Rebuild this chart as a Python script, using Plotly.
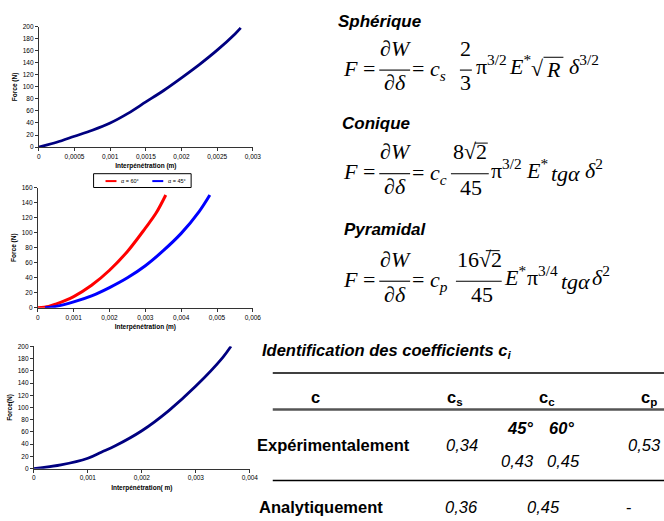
import plotly.graph_objects as go

W, H = 664, 521
XS = 656.0  # horizontal reference width used to place items

def px(x):
    return x / XS

def py(y):
    return 1 - y / H

# ---------------- data ----------------
sph_x = [0, 0.00025, 0.0005, 0.00075, 0.001, 0.00125, 0.0015, 0.00175, 0.002, 0.00225, 0.0025, 0.00275, 0.00283]
sph_f = [0, 8, 18, 28, 40, 56, 75, 94, 115, 137, 161, 188, 198]

con60_x = [0, 0.0003, 0.0005, 0.001, 0.0015, 0.002, 0.0025, 0.003, 0.0033, 0.00357]
con60_f = [0, 2, 5, 15, 30, 50, 75, 106, 126, 150]
con45_x = [0.0002, 0.0005, 0.001, 0.0015, 0.002, 0.0025, 0.003, 0.0035, 0.004, 0.0045, 0.0048]
con45_f = [0, 2, 8, 16, 27, 40, 56, 76, 99, 128, 150]

pyr_x = [0, 0.0005, 0.001, 0.00125, 0.0015, 0.002, 0.0025, 0.003, 0.0035, 0.00365]
pyr_f = [0, 6, 17, 27, 37, 62, 95, 135, 182, 200]

sph_xticks = [0, 0.0005, 0.001, 0.0015, 0.002, 0.0025, 0.003]
sph_xlabels = ["0", "0,0005", "0,001", "0,0015", "0,002", "0,0025", "0,003"]
con_xticks = [0, 0.001, 0.002, 0.003, 0.004, 0.005, 0.006]
con_xlabels = ["0", "0,001", "0,002", "0,003", "0,004", "0,005", "0,006"]
pyr_xticks = [0, 0.001, 0.002, 0.003, 0.004]
pyr_xlabels = ["0", "0,001", "0,002", "0,003", "0,004"]

legend_names = ["α = 60°", "α = 45°"]
legend_colors = ["#FF0000", "#0000FF"]

table_header = ["c", "c<sub>s</sub>", "c<sub>c</sub>", "c<sub>p</sub>"]
row_labels = ["Expérimentalement", "Analytiquement"]
exp_cs, exp_cc45, exp_cc60, exp_cp = "0,34", "0,43", "0,45", "0,53"
ana_cs, ana_cc, ana_cp = "0,36", "0,45", "-"

NAVY = "#000080"

fig = go.Figure()
fig.add_trace(go.Scatter(x=sph_x, y=sph_f, mode="lines", line=dict(color=NAVY, width=2.8, shape="spline"),
                         showlegend=False, xaxis="x", yaxis="y"))
fig.add_trace(go.Scatter(x=con60_x, y=con60_f, mode="lines", name=legend_names[0], showlegend=False,
                         line=dict(color=legend_colors[0], width=3, shape="spline"), xaxis="x2", yaxis="y2"))
fig.add_trace(go.Scatter(x=con45_x, y=con45_f, mode="lines", name=legend_names[1], showlegend=False,
                         line=dict(color=legend_colors[1], width=3, shape="spline"), xaxis="x2", yaxis="y2"))
fig.add_trace(go.Scatter(x=pyr_x, y=pyr_f, mode="lines", line=dict(color=NAVY, width=2.8, shape="spline"),
                         showlegend=False, xaxis="x3", yaxis="y3"))

TICKF = dict(family="Liberation Sans", size=6.5, color="black")
TITLEF = dict(family="Liberation Sans", size=6.5, color="black")

def xax(dom, rng, vals, labels, title, anchor):
    return dict(domain=dom, range=rng, tickvals=vals, ticktext=labels, showline=True, linecolor="#333",
                linewidth=1, ticks="outside", ticklen=3, tickcolor="#333", showgrid=False, zeroline=False,
                tickfont=TICKF, anchor=anchor,
                title=dict(text="<b>%s</b>" % title, font=TITLEF, standoff=4))

def yax(dom, rng, title, anchor):
    return dict(domain=dom, range=rng, dtick=20, showline=True, linecolor="#333", linewidth=1,
                ticks="outside", ticklen=3, tickcolor="#333", showgrid=False, zeroline=False,
                tickfont=TICKF, anchor=anchor,
                title=dict(text="<b>%s</b>" % title, font=TITLEF, standoff=4))

layout = dict(
    width=W, height=H, margin=dict(l=0, r=0, t=0, b=0), paper_bgcolor="white", plot_bgcolor="white",
    xaxis=xax([px(37), px(252)], [0, 0.003], sph_xticks, sph_xlabels, "Interpénétration (m)", "y"),
    yaxis=yax([py(145), py(23)], [0, 200], "Force (N)", "x"),
    xaxis2=xax([px(36), px(252)], [0, 0.006], con_xticks, con_xlabels, "Interpénétration (m)", "y2"),
    yaxis2=yax([py(308), py(186)], [0, 160], "Force (N)", "x2"),
    xaxis3=xax([px(32), px(249)], [0, 0.004], pyr_xticks, pyr_xlabels, "Interpénétration( m)", "y3"),
    yaxis3=yax([py(471), py(347)], [0, 200], "Force(N)", "x3"),
    showlegend=False,
)
fig.update_layout(**layout)

anns = []
shapes = []

def ann(text, x, y, size=22, xanchor="left", family="Liberation Serif", yshift=0):
    anns.append(dict(text=text, x=px(x), y=py(y), xref="paper", yref="paper", xanchor=xanchor,
                     yanchor="middle", showarrow=False, yshift=yshift, borderpad=0,
                     font=dict(family=family, size=size, color="black")))

def hline(x0, x1, y, width=1.2, color="black"):
    shapes.append(dict(type="line", xref="paper", yref="paper", x0=px(x0), x1=px(x1), y0=py(y), y1=py(y),
                       line=dict(color=color, width=width)))

SANS = "Liberation Sans"

# legend of the conical chart (drawn as a small boxed key)
shapes.append(dict(type="rect", xref="paper", yref="paper", x0=px(92), x1=px(190), y0=py(172), y1=py(186),
                   line=dict(color="black", width=1), fillcolor="white"))
for i, (nm, col) in enumerate(zip(legend_names, legend_colors)):
    x0 = 104 + i * 47
    hline(x0, x0 + 11, 179.5, width=2, color=col)
    ann(nm, x0 + 15, 179.5, size=5.5, family=SANS)

# titles
ann("<b><i>Sphérique</i></b>", 337, 18, size=17, family=SANS)
ann("<b><i>Conique</i></b>", 341, 121, size=17, family=SANS)
ann("<b><i>Pyramidal</i></b>", 343, 229, size=17, family=SANS)

# equation helper: dW/ddelta fraction
def dfrac(ybar):
    ann("<i>F</i> =", 342, ybar - 2)
    ann("∂<i>W</i>", 395, ybar - 22, xanchor="center")
    ann("∂<i>δ</i>", 395, ybar + 13, xanchor="center")
    hline(379, 410, ybar, width=1.1)

# Eq 1
dfrac(67)
ann("= <i>c<sub>s</sub></i>", 411, 67)
ann("2", 466, 45, xanchor="center")
ann("3", 466, 80, xanchor="center")
hline(460, 472, 67, width=1.1)
ann("π<sup>3/2</sup>", 475, 62)
ann("<i>E</i><sup>*</sup>", 508, 62)
ann("√", 530, 65)
ann("<i>R</i>", 545, 66)
hline(544, 564, 54, width=1.0)
ann("<i>δ</i><sup>3/2</sup>", 569, 62)

# Eq 2
dfrac(172)
ann("= <i>c<sub>c</sub></i>", 411, 172)
ann("8√2", 470, 150, xanchor="center")
hline(475, 488, 141, width=1.0)
ann("45", 471, 186, xanchor="center")
hline(451, 489, 172, width=1.1)
ann("π<sup>3/2</sup>", 490, 167)
ann("<i>E</i><sup>*</sup>", 525, 167)
ann("<i>tgα</i>", 551, 172)
ann("<i>δ</i><sup>2</sup>", 585, 167)

# Eq 3
dfrac(281)
ann("= <i>c<sub>p</sub></i>", 411, 281)
ann("16√2", 480, 259, xanchor="center")
hline(486, 500, 250, width=1.0)
ann("45", 482, 294, xanchor="center")
hline(456, 502, 281, width=1.1)
ann("<i>E</i><sup>*</sup>", 503, 276)
ann("π<sup>3/4</sup>", 526, 276)
ann("<i>tgα</i>", 561, 281)
ann("<i>δ</i><sup>2</sup>", 592, 276)

# Identification title
ann("<b><i>Identification des coefficients c<sub>i</sub></i></b>", 260, 352, size=16.5, family=SANS)

# table lines
hline(272, 672, 374, width=1.6, color="black")
hline(272, 672, 411, width=2.5, color="#555555")
hline(272, 672, 483, width=1.6, color="black")

TS = 16.5
ann("<b>%s</b>" % table_header[0], 315, 398, size=TS, family=SANS, xanchor="center")
ann("<b>%s</b>" % table_header[1], 455, 399, size=TS, family=SANS, xanchor="center")
ann("<b>%s</b>" % table_header[2], 548, 399, size=TS, family=SANS, xanchor="center")
ann("<b>%s</b>" % table_header[3], 650, 399, size=TS, family=SANS, xanchor="center")

ann("<b>%s</b>" % row_labels[0], 255, 447, size=TS, family=SANS)
ann("<i>%s</i>" % exp_cs, 462, 447, size=TS, family=SANS, xanchor="center")
ann("<b><i>45°</i></b>", 520, 430, size=TS, family=SANS, xanchor="center")
ann("<b><i>60°</i></b>", 562, 430, size=TS, family=SANS, xanchor="center")
ann("<i>%s</i>" % exp_cc45, 518, 463, size=TS, family=SANS, xanchor="center")
ann("<i>%s</i>" % exp_cc60, 564, 463, size=TS, family=SANS, xanchor="center")
ann("<i>%s</i>" % exp_cp, 645, 447, size=TS, family=SANS, xanchor="center")

ann("<b>%s</b>" % row_labels[1], 257, 510, size=TS, family=SANS)
ann("<i>%s</i>" % ana_cs, 462, 510, size=TS, family=SANS, xanchor="center")
ann("<i>%s</i>" % ana_cc, 544, 510, size=TS, family=SANS, xanchor="center")
ann(ana_cp, 630, 510, size=TS, family=SANS, xanchor="center")

fig.update_layout(annotations=anns, shapes=shapes)
fig.write_html("out.html", post_script="document.body.style.margin='0px';",
               config={"displayModeBar": False})
